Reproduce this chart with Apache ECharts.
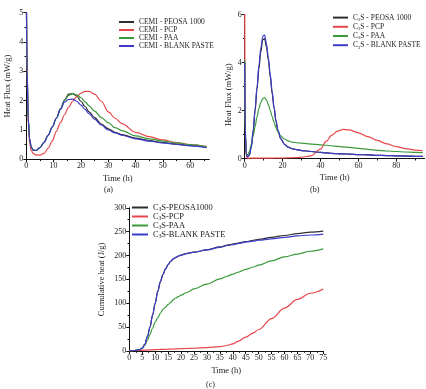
<!DOCTYPE html>
<html>
<head>
<meta charset="utf-8">
<script src="https://cdn.jsdelivr.net/npm/echarts@6/dist/echarts.min.js"></script>
<style>html,body{margin:0;padding:0;background:#fff}#c{width:426px;height:389px}</style>
</head>
<body>
<div id="c"></div>
<script>
// ---------- (a) CEMI heat flux ----------
const timeA = [0, 0.3, 0.7, 1.2, 1.8, 2.5, 3.5, 5, 6.5, 8, 9.5, 11, 12.5, 14, 15.5, 17, 18.5, 20, 21.5, 23, 25, 27.5, 30, 32.5, 35, 40, 45, 50, 55, 60, 66];
const cemiPeosa = [6, 3.0, 1.4, 0.7, 0.42, 0.31, 0.3, 0.4, 0.58, 0.82, 1.1, 1.4, 1.72, 2.02, 2.22, 2.24, 2.15, 1.98, 1.8, 1.62, 1.42, 1.2, 1.04, 0.92, 0.84, 0.72, 0.64, 0.57, 0.52, 0.47, 0.41];
const cemiPcp   = [6, 2.8, 1.2, 0.55, 0.3, 0.2, 0.15, 0.14, 0.2, 0.38, 0.62, 0.95, 1.25, 1.52, 1.78, 1.98, 2.14, 2.25, 2.32, 2.32, 2.22, 1.98, 1.62, 1.4, 1.22, 0.92, 0.77, 0.66, 0.57, 0.5, 0.43];
const cemiPaa   = [6, 3.0, 1.4, 0.7, 0.42, 0.31, 0.3, 0.4, 0.58, 0.82, 1.1, 1.4, 1.7, 2.0, 2.18, 2.24, 2.2, 2.1, 1.96, 1.82, 1.64, 1.42, 1.25, 1.08, 0.98, 0.8, 0.7, 0.62, 0.56, 0.5, 0.43];
const cemiBlank = [6, 3.0, 1.4, 0.7, 0.42, 0.31, 0.3, 0.4, 0.58, 0.82, 1.1, 1.4, 1.7, 1.95, 2.04, 2.05, 1.98, 1.85, 1.7, 1.55, 1.37, 1.17, 1.0, 0.9, 0.82, 0.7, 0.62, 0.56, 0.51, 0.46, 0.4];
const ticksAX = [0, 10, 20, 30, 40, 50, 60];

// ---------- (b) C3S heat flux ----------
const timeB = [0, 0.3, 0.8, 1.5, 2.5, 3.5, 4.5, 5.5, 6.5, 7.5, 8.5, 9.5, 10.5, 11.5, 12.5, 13.5, 14.5, 15.5, 16.5, 17.5, 19, 21, 23, 25, 28, 30, 35, 40, 43, 46, 49, 52, 55, 60, 65, 70, 75, 80, 85, 90, 94];
const c3sPeosaB = [4.0, 1.2, 0.2, 0.08, 0.15, 0.5, 1.15, 2.0, 2.9, 3.75, 4.45, 4.95, 5.0, 4.65, 4.1, 3.4, 2.7, 2.1, 1.55, 1.17, 0.83, 0.6, 0.48, 0.42, 0.37, 0.34, 0.3, 0.26, 0.24, 0.22, 0.21, 0.2, 0.19, 0.17, 0.16, 0.14, 0.13, 0.12, 0.11, 0.1, 0.1];
const c3sPcpB   = [6.5, 1.0, 0.1, 0.02, 0.02, 0.02, 0.02, 0.02, 0.02, 0.02, 0.02, 0.02, 0.02, 0.02, 0.02, 0.02, 0.02, 0.03, 0.03, 0.03, 0.03, 0.03, 0.04, 0.04, 0.05, 0.06, 0.12, 0.4, 0.72, 0.98, 1.15, 1.22, 1.2, 1.08, 0.92, 0.76, 0.62, 0.5, 0.42, 0.36, 0.33];
const c3sPaaB   = [4.1, 1.0, 0.2, 0.15, 0.3, 0.6, 0.95, 1.35, 1.75, 2.1, 2.35, 2.5, 2.55, 2.45, 2.25, 2.0, 1.75, 1.5, 1.3, 1.12, 0.95, 0.82, 0.74, 0.69, 0.66, 0.65, 0.61, 0.58, 0.56, 0.54, 0.51, 0.49, 0.47, 0.43, 0.39, 0.35, 0.32, 0.3, 0.28, 0.26, 0.25];
const c3sBlankB = [4.0, 1.2, 0.2, 0.08, 0.15, 0.5, 1.2, 2.1, 3.0, 3.9, 4.6, 5.1, 5.15, 4.8, 4.2, 3.5, 2.8, 2.15, 1.6, 1.2, 0.85, 0.6, 0.48, 0.42, 0.37, 0.34, 0.3, 0.26, 0.24, 0.22, 0.21, 0.2, 0.19, 0.17, 0.16, 0.14, 0.13, 0.12, 0.11, 0.1, 0.1];
const ticksBX = [0, 20, 40, 60, 80];

// ---------- (c) C3S cumulative heat ----------
const timeC = [0, 2, 4, 5, 6, 7, 8, 9, 10, 11, 12, 13, 14, 15, 16, 17, 18, 19, 20, 22, 25, 30, 35, 38, 40, 42, 45, 48, 50, 55, 60, 65, 70, 75];
const c3sPeosaC = [0, 1, 3, 6, 14, 30, 50, 75, 100, 125, 145, 160, 172, 181, 188, 193, 196, 199, 201, 204, 207, 212, 218, 222, 224, 226, 229, 232, 234, 238, 242, 246, 249, 251];
const c3sPcpC   = [0, 0.5, 1, 1.5, 2, 2, 2.5, 2.5, 3, 3, 3.2, 3.4, 3.6, 3.8, 4, 4.2, 4.4, 4.6, 4.8, 5.2, 5.8, 7, 9, 12, 15, 20, 29, 38, 45, 68, 90, 108, 121, 130];
const c3sPaaC   = [0, 1, 3, 6, 12, 22, 35, 48, 60, 70, 79, 87, 92, 97, 102, 107, 111, 114, 117, 122, 130, 140, 151, 157, 161, 165, 171, 176, 180, 189, 197, 203, 209, 214];
const c3sBlankC = [0, 1, 3, 6, 14, 30, 50, 75, 100, 125, 145, 160, 172, 181, 188, 193, 196, 199, 201, 204, 207, 212, 217, 221, 223, 225, 228, 230, 232, 235, 238, 241, 243, 245];

const COL = { peosa: '#2e2e2e', pcp: '#e8484c', paa: '#3a9a3a', blank: '#3c3cc8' };
const FONT = 'Liberation Serif';

function zip(t, v) { return t.map((x, i) => [x, v[i]]); }
function ser(name, idx, t, v, color, w) {
  return {
    name, type: 'line', xAxisIndex: idx, yAxisIndex: idx,
    data: zip(t, v), symbol: 'none', smooth: 0.35, smoothMonotone: 'x',
    clip: true, lineStyle: { color, width: w || 1.2 }, itemStyle: { color },
    emphasis: { disabled: true }, animation: false
  };
}
const axLine = { show: true, lineStyle: { color: '#111', width: 1 } };
const lab = { fontFamily: FONT, fontSize: 8, color: '#222', margin: 3 };
function xAx(idx, max, interval, ticks, minorSplit) {
  const o = {
    type: 'value', gridIndex: idx, min: 0, max, interval,
    name: 'Time (h)', nameLocation: 'middle', nameGap: 15,
    nameTextStyle: { fontFamily: FONT, fontSize: 8.5, color: '#222' },
    axisLine: axLine, splitLine: { show: false },
    axisTick: { show: true, length: 3, inside: false, lineStyle: { color: '#111' } },
    minorTick: { show: true, splitNumber: minorSplit, length: 1.8, lineStyle: { color: '#111' } },
    axisLabel: Object.assign({}, lab)
  };
  if (ticks) { o.axisLabel.customValues = ticks; o.axisTick.customValues = ticks; }
  return o;
}
function yAx(idx, max, interval, name, gap, pad, minorSplit) {
  return {
    type: 'value', gridIndex: idx, min: 0, max, interval,
    name, nameLocation: 'middle', nameGap: gap,
    nameTextStyle: { fontFamily: FONT, fontSize: 8.5, color: '#222', padding: pad },
    axisLine: axLine, splitLine: { show: false },
    axisTick: { show: true, length: 3, lineStyle: { color: '#111' } },
    minorTick: { show: true, splitNumber: minorSplit, length: 1.8, lineStyle: { color: '#111' } },
    axisLabel: Object.assign({}, lab)
  };
}
const subFmt = n => '{n|C}{s|3}{n|' + n.slice(2) + '}';
function legend(idx, names, left, top, h, fs, rich, iw) {
  const ts = { fontFamily: FONT, fontSize: fs, color: '#222', lineHeight: h };
  const o = {
    data: names, orient: 'vertical', left, top, itemWidth: iw || 15, itemHeight: h, itemGap: 0,
    selectedMode: false, textStyle: ts, padding: 0,
    itemStyle: { opacity: 0, borderWidth: 0 }
  };
  if (rich) {
    o.formatter = subFmt;
    ts.rich = {
      n: { fontFamily: FONT, fontSize: fs, color: '#222', lineHeight: h },
      s: { fontFamily: FONT, fontSize: fs * 0.62, color: '#222', lineHeight: h, verticalAlign: 'bottom' }
    };
  }
  return o;
}

const namesA = ['CEMI - PEOSA 1000', 'CEMI - PCP', 'CEMI - PAA', 'CEMI - BLANK PASTE'];
const namesB = ['C3S - PEOSA 1000', 'C3S - PCP', 'C3S - PAA', 'C3S - BLANK PASTE'];
const namesC = ['C3S-PEOSA1000', 'C3S-PCP', 'C3S-PAA', 'C3S-BLANK PASTE'];

const chart = echarts.init(document.getElementById('c'), null, { renderer: 'canvas' });
chart.setOption({
  animation: false,
  backgroundColor: '#fff',
  grid: [
    { left: 26.3, top: 12.7, width: 183, height: 146.6 },
    { left: 244.7, top: 14.7, width: 180, height: 144 },
    { left: 129.3, top: 207.8, width: 194, height: 143.2 }
  ],
  xAxis: [
    xAx(0, 67, 10, ticksAX, 2),
    xAx(1, 95, 20, ticksBX, 2),
    xAx(2, 75, 5, null, 2)
  ],
  yAxis: [
    yAx(0, 5, 1, 'Heat Flux (mW/g)', 14, [0, 0, 0, 0], 2),
    yAx(1, 6, 2, 'Heat Flux (mW/g)', 11, [0, 16, 0, 0], 2),
    yAx(2, 300, 50, 'Cumulative heat (J/g)', 23, [0, 0, 0, 0], 2)
  ],
  legend: [
    legend(0, namesA, 118, 18, 7.4, 7.5, false, 15),
    legend(1, namesB, 332, 13, 9.2, 7.5, true, 15),
    legend(2, namesC, 131, 203, 8.3, 8.5, true, 16)
  ],
  graphic: [
    { type: 'text', left: 104, top: 186, style: { text: '(a)', fontFamily: FONT, fontSize: 8, fill: '#222' } },
    { type: 'text', left: 310, top: 186, style: { text: '(b)', fontFamily: FONT, fontSize: 8, fill: '#222' } },
    { type: 'text', left: 206, top: 381, style: { text: '(c)', fontFamily: FONT, fontSize: 8, fill: '#222' } }
  ],
  series: [
    ser(namesA[0], 0, timeA, cemiPeosa, COL.peosa),
    ser(namesA[1], 0, timeA, cemiPcp, COL.pcp),
    ser(namesA[2], 0, timeA, cemiPaa, COL.paa),
    ser(namesA[3], 0, timeA, cemiBlank, COL.blank),
    ser(namesB[0], 1, timeB, c3sPeosaB, COL.peosa),
    ser(namesB[1], 1, timeB, c3sPcpB, COL.pcp),
    ser(namesB[2], 1, timeB, c3sPaaB, COL.paa),
    ser(namesB[3], 1, timeB, c3sBlankB, COL.blank),
    ser(namesC[0], 2, timeC, c3sPeosaC, COL.peosa),
    ser(namesC[1], 2, timeC, c3sPcpC, COL.pcp),
    ser(namesC[2], 2, timeC, c3sPaaC, COL.paa),
    ser(namesC[3], 2, timeC, c3sBlankC, COL.blank)
  ]
});
</script>
</body>
</html>
